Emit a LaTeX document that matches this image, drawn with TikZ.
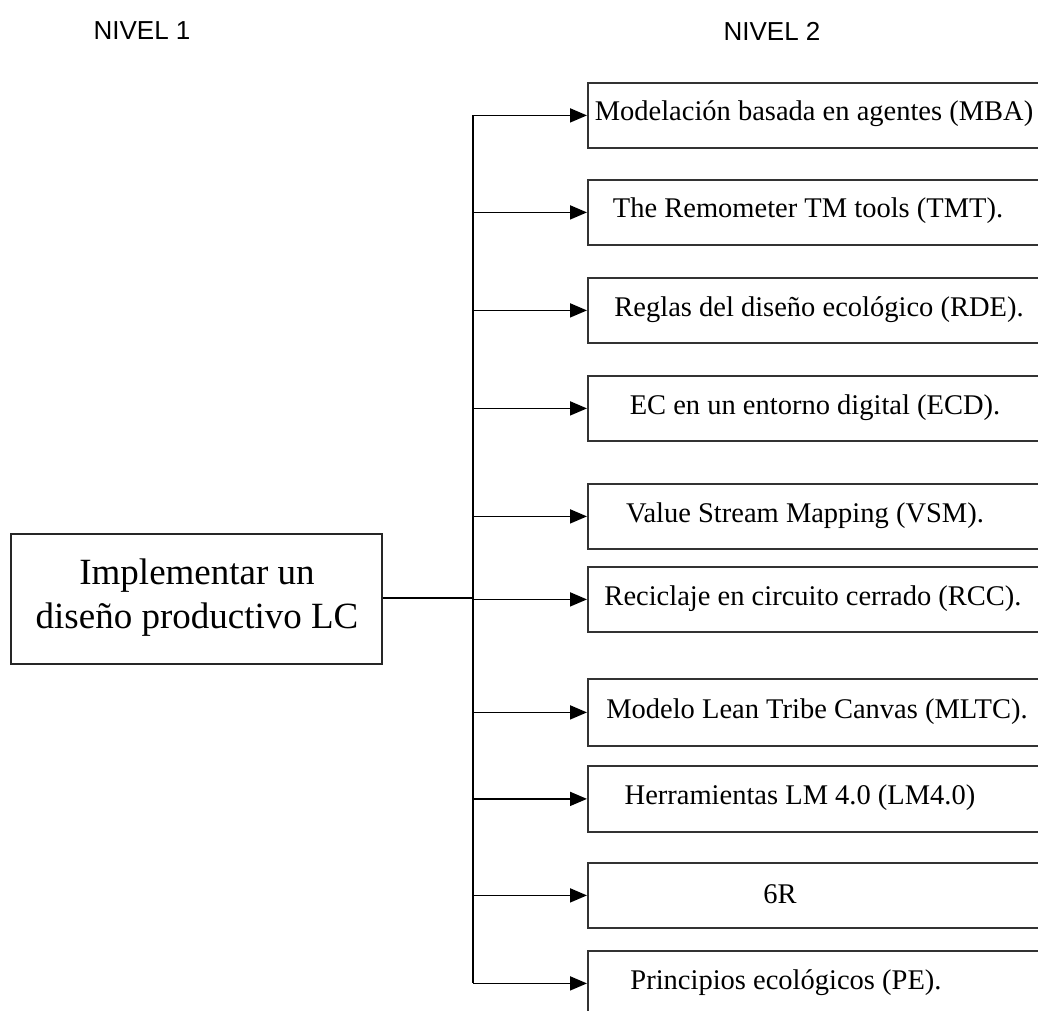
\documentclass[tikz,border=0pt]{standalone}
\usepackage{fontspec}
\setmainfont{Liberation Serif}
\newfontfamily\headfont{Liberation Sans}
\usetikzlibrary{arrows.meta}
\begin{document}
\begin{tikzpicture}[x=1pt,y=-1pt,
  line width=1.8pt,
  box/.style={draw=black!80, line width=1.8pt, rectangle, inner sep=0pt,
              minimum width=470pt, minimum height=#1, anchor=north west},
  box/.default=65pt,
  mainbox/.style={draw=black!85, line width=1.8pt, rectangle, inner sep=0pt,
                  minimum width=371pt, minimum height=130pt, anchor=north west},
  lbl/.style={inner sep=0pt, font=\fontsize{28.5}{33}\selectfont},
  head/.style={inner sep=0pt, font=\headfont\fontsize{26}{30}\selectfont},
  arr/.style={-{Triangle[length=17pt,width=14pt]}, line width=1.8pt},
]
\useasboundingbox (0,0) rectangle (1038,1010);
\clip (0,0) rectangle (1038,1010);

% level headings
\node[head] (h1) at (142,31) {NIVEL 1};
\node[head] (h2) at (772,31) {NIVEL 2};

% level 1
\node[mainbox] (root) at (10,533) {};
\node[inner sep=0pt, align=center, font=\fontsize{37}{44}\selectfont] (rootlbl)
  at (197,598) {Implementar un\\dise\~no productivo LC};

% level 2 boxes
\node[box] (b1)  at (587,82)  {};
\node[box] (b2)  at (587,179) {};
\node[box] (b3)  at (587,277) {};
\node[box] (b4)  at (587,375) {};
\node[box] (b5)  at (587,483) {};
\node[box] (b6)  at (587,566) {};
\node[box=67pt] (b7)  at (587,678) {};
\node[box=66pt] (b8)  at (587,765) {};
\node[box] (b9)  at (587,862) {};
\node[box] (b10) at (587,950) {};

% level 2 texts
\node[lbl] (t1)  at (814,114)   {Modelaci\'on basada en agentes (MBA)};
\node[lbl] (t2)  at (808,211)   {The Remometer TM tools (TMT).};
\node[lbl] (t3)  at (819,309.5) {Reglas del dise\~no ecol\'ogico (RDE).};
\node[lbl] (t4)  at (815,408)   {EC en un entorno digital (ECD).};
\node[lbl] (t5)  at (805,515.5) {Value Stream Mapping (VSM).};
\node[lbl] (t6)  at (813,599)   {Reciclaje en circuito cerrado (RCC).};
\node[lbl] (t7)  at (817,711.5) {Modelo Lean Tribe Canvas (MLTC).};
\node[lbl] (t8)  at (800,798)   {Herramientas LM 4.0 (LM4.0)};
\node[lbl] (t9)  at (780,894.5) {6R};
\node[lbl] (t10) at (786,982.5) {Principios ecol\'ogicos (PE).};

% connectors
\coordinate (bus) at (473,598);
\draw (root.east |- bus) -- (bus);
\draw (bus |- b1.west) -- (bus |- b10.west);
\foreach \i in {1,...,10}{
  \draw[arr] (bus |- b\i.west) -- (b\i.west);
}
\end{tikzpicture}
\end{document}
